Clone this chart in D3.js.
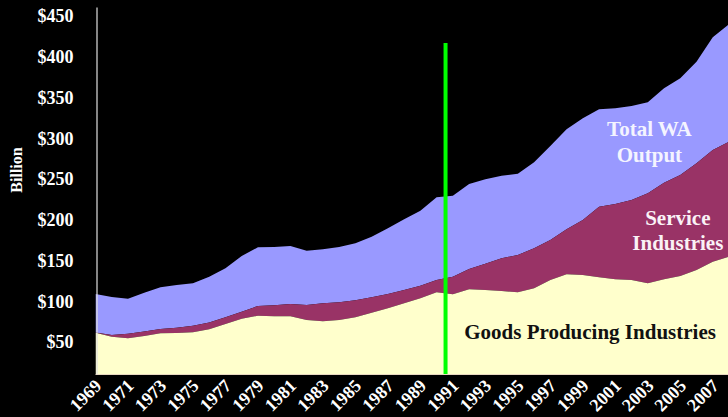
<!DOCTYPE html>
<html>
<head>
<meta charset="utf-8">
<script src="https://cdn.jsdelivr.net/npm/d3@7"></script>
<style>
  body { margin: 0; background: #000; }
  svg { display: block; }
  .ylab, .xlab, .note { font-family: "Liberation Serif", "Times New Roman", serif; font-weight: bold; }
</style>
</head>
<body>
<div id="viz"></div>
<script>
/***************** Data (billion $) *********************/
var years = d3.range(1969, 2009);
var goods = [61.7, 56.8, 54.8, 57.6, 60.9, 61.3, 62.2, 65.8, 72.3, 78.8,
             82.5, 81.8, 81.8, 77.2, 75.6, 77.2, 80.6, 86.2, 91.6, 97.7,
             103.9, 111.2, 108.8, 114.9, 114.0, 112.8, 111.2, 116.1, 126.3, 133.3,
             132.4, 129.6, 127.1, 126.3, 122.2, 127.1, 131.2, 138.5, 148.7, 154.9];
var services = [0.3, 2.1, 5.7, 5.4, 5.3, 6.5, 8.1, 8.5, 8.2, 8.6,
                11.9, 13.5, 15.1, 18.4, 22.1, 21.7, 20.8, 18.9, 17.5, 16.3,
                15.4, 15.1, 21.5, 24.9, 32.3, 40.1, 45.7, 49.1, 49.0, 55.2,
                67.5, 86.6, 92.4, 98.1, 110.4, 118.5, 123.8, 130.9, 137.0, 141.0];
var total = [109.1, 105.4, 103.4, 110.7, 117.3, 120.2, 122.2, 130.3, 140.6, 155.7,
             166.4, 166.7, 168.0, 162.2, 163.9, 166.7, 171.3, 179.4, 189.7, 200.7,
             211.3, 227.7, 229.7, 244.0, 249.8, 254.2, 256.6, 270.6, 290.6, 311.1,
             324.5, 335.6, 336.8, 339.6, 344.2, 361.3, 373.6, 393.9, 423.9, 440.0];
var yTicks = [50, 100, 150, 200, 250, 300, 350, 400, 450];
var xLabels = d3.range(1969, 2008, 2);
var markerYear = 1990.55;

/***************** Layout *********************/
var w = 728,
    h = 417,
    yMin = 11,
    yMax = 461,
    total_color = "#9999FF",
    service_color = "#993366",
    goods_color = "#FFFFCC",
    text_color = "#FFFFFF";

var svg = d3.select("#viz")
        .append("svg")
        .attr("width", w)
        .attr("height", h)
        .style("background", "#000");

var x = d3.scaleLinear().domain([1969, 2008]).range([95.5, 729]);
var y = d3.scaleLinear().domain([yMin, yMax]).range([374, 7]);

var rows = years.map(function(yr, i) {
  return { year: yr, goods: goods[i], mid: goods[i] + services[i], total: total[i] };
});

svg.append("clipPath").attr("id", "plot")
  .append("rect")
  .attr("x", x(1969)).attr("y", y(yMax))
  .attr("width", w - x(1969)).attr("height", y(yMin) - y(yMax));

var g = svg.append("g").attr("clip-path", "url(#plot)");

/* Stacked areas */
var totalArea = d3.area()
    .x(function(d) { return x(d.year); })
    .y0(function(d) { return y(d.mid); })
    .y1(function(d) { return y(d.total); });
var serviceArea = d3.area()
    .x(function(d) { return x(d.year); })
    .y0(function(d) { return y(d.goods); })
    .y1(function(d) { return y(d.mid); });
var goodsArea = d3.area()
    .x(function(d) { return x(d.year); })
    .y0(y(yMin))
    .y1(function(d) { return y(d.goods); });

g.append("path").datum(rows).attr("d", totalArea).attr("fill", total_color);
g.append("path").datum(rows).attr("d", serviceArea).attr("fill", service_color);
g.append("path").datum(rows).attr("d", goodsArea).attr("fill", goods_color);

/* bottom edge */
svg.append("line")
  .attr("x1", x(1969)).attr("x2", w)
  .attr("y1", y(yMin) + 0.5).attr("y2", y(yMin) + 0.5)
  .attr("stroke", "#E8D8C0").attr("stroke-width", 1);

/***************** Axes *********************/
var yAxis = d3.axisLeft(y)
    .tickValues(yTicks)
    .tickSize(0)
    .tickPadding(23)
    .tickFormat(function(d) { return "$" + d; });

var ya = svg.append("g")
    .attr("transform", "translate(" + Math.round(x(1969)) + ".5,0)")
    .call(yAxis);
ya.select(".domain").attr("stroke", "#E0E0E0").attr("stroke-width", 1.2);
ya.selectAll("text")
    .attr("class", "ylab")
    .attr("fill", text_color)
    .style("font-size", "18px")
    .attr("dy", "0.32em");

svg.append("text")
    .attr("class", "ylab")
    .attr("transform", "translate(22,170) rotate(-90)")
    .attr("text-anchor", "middle")
    .attr("fill", text_color)
    .style("font-size", "16px")
    .text("Billion");

svg.selectAll(".xlab").data(xLabels).enter()
  .append("text")
    .attr("class", "xlab")
    .attr("text-anchor", "end")
    .attr("fill", text_color)
    .style("font-size", "18px")
    .attr("transform", function(d) { return "translate(" + (x(d) + 7) + ",387) rotate(-45)"; })
    .text(function(d) { return d; });

/***************** Marker + labels *********************/
svg.append("line")
  .attr("x1", x(markerYear)).attr("x2", x(markerYear))
  .attr("y1", y(417)).attr("y2", y(yMin))
  .attr("stroke", "#00FF00").attr("stroke-width", 4);

var notes = [
  { lines: ["Total WA", "Output"], year: 2003.1, value: 302.8, color: "#F4F4FF" },
  { lines: ["Service", "Industries"], year: 2004.85, value: 193.7, color: "#FAF2F6" },
  { lines: ["Goods Producing Industries"], year: 1991.7, value: 54, color: "#111", anchor: "start" }
];

notes.forEach(function(n) {
  var t = svg.append("text")
      .attr("class", "note")
      .attr("x", x(n.year))
      .attr("y", y(n.value))
      .attr("text-anchor", n.anchor || "middle")
      .attr("fill", n.color)
      .style("font-size", "21px");
  n.lines.forEach(function(l, i) {
    t.append("tspan").attr("x", x(n.year)).attr("dy", i === 0 ? 0 : 25.5).text(l);
  });
});
</script>
</body>
</html>
